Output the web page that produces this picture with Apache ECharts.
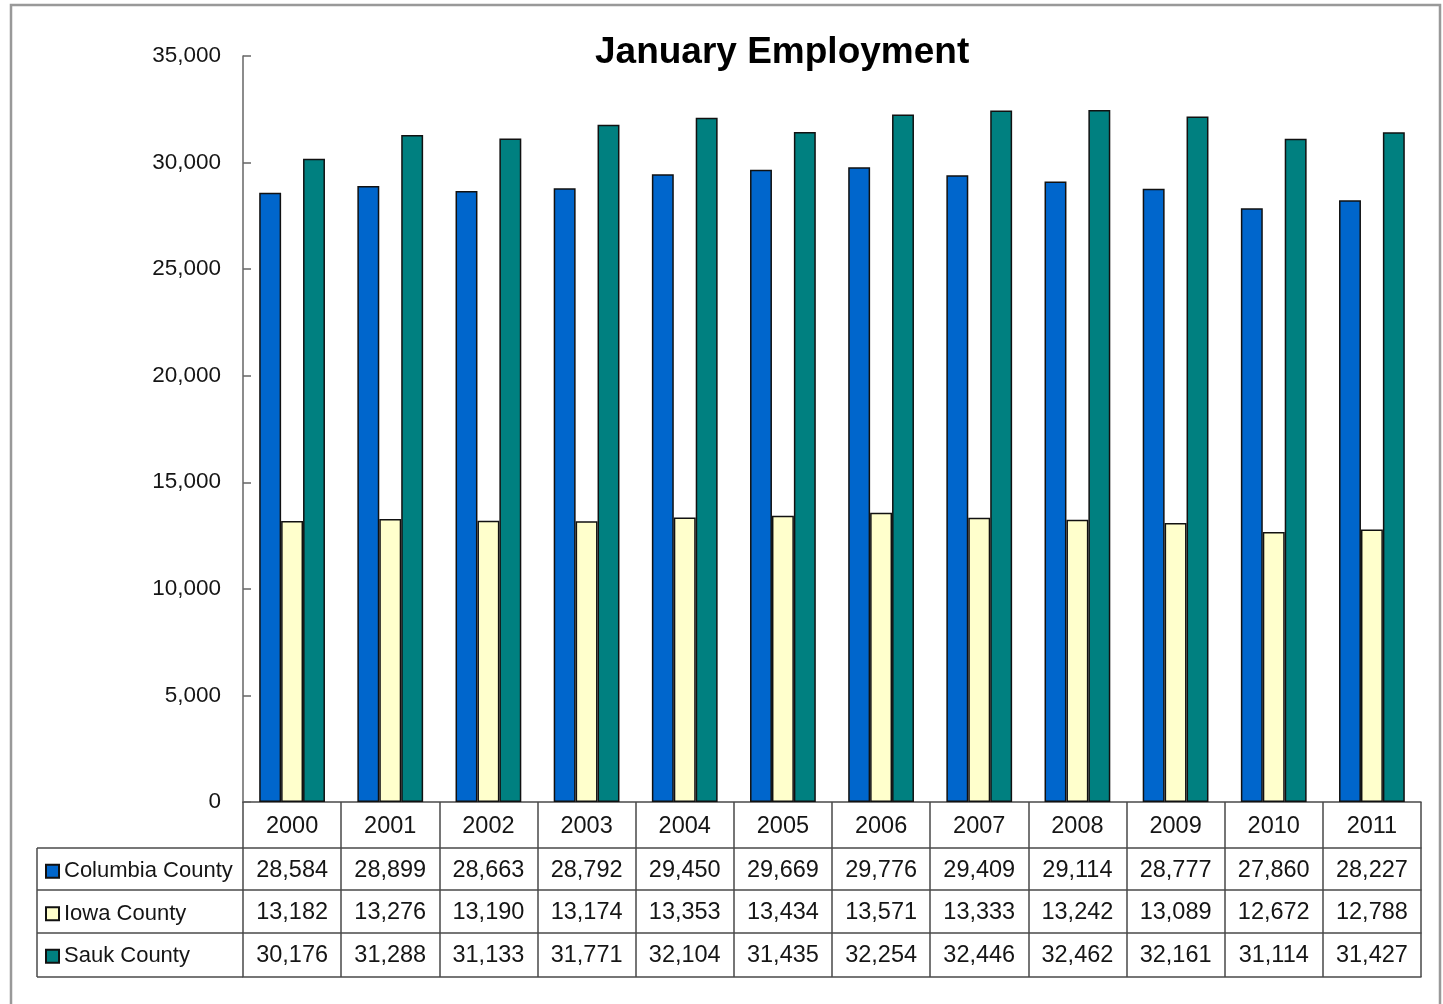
<!DOCTYPE html>
<html>
<head>
<meta charset="utf-8">
<script src="https://cdn.jsdelivr.net/npm/echarts@6/dist/echarts.min.js"></script>
<style>
html,body{margin:0;padding:0;background:#fff;}
#main{width:1443px;height:1004px;}
</style>
</head>
<body>
<div id="main"></div>
<script>
var years = ['2000','2001','2002','2003','2004','2005','2006','2007','2008','2009','2010','2011'];
var columbia = [28584,28899,28663,28792,29450,29669,29776,29409,29114,28777,27860,28227];
var iowa = [13182,13276,13190,13174,13353,13434,13571,13333,13242,13089,12672,12788];
var sauk = [30176,31288,31133,31771,32104,31435,32254,32446,32462,32161,31114,31427];
var seriesNames = ['Columbia County','Iowa County','Sauk County'];
var seriesColors = ['#0066CC','#FFFFCC','#008080'];
var yTicks = {min:0, max:35000, interval:5000};

var FONT = 'Liberation Sans, Arial, sans-serif';
var fmt = function(v){ return Number(v).toLocaleString('en-US'); };
var lineCol = '#4a4a4a';
var txtCol = '#151515';

function rowAxis(data, offset, tickLen, margin){
  return {
    type:'category', data:data.map(fmt), position:'bottom', offset:offset, gridIndex:0,
    boundaryGap:true,
    axisLine:{show:true, lineStyle:{color:lineCol, width:1.5}},
    axisTick:{show:true, length:tickLen, interval:0, lineStyle:{color:lineCol, width:1.5}},
    axisLabel:{show:true, interval:0, margin:margin, fontFamily:FONT, fontSize:23.5, lineHeight:22, color:txtCol},
    splitLine:{show:false}
  };
}

var chart = echarts.init(document.getElementById('main'), null, {renderer:'canvas'});
var allData = [columbia, iowa, sauk];
var option = {
  backgroundColor:'#fff',
  animation:false,
  title:{
    text:'January Employment', left:590, top:29,
    textStyle:{fontFamily:FONT, fontSize:37, fontWeight:'bold', color:'#000'}
  },
  legend:{
    orient:'vertical', left:40, top:855, itemWidth:13, itemHeight:13, itemGap:20,
    selectedMode:false, icon:'rect',
    data:seriesNames,
    textStyle:{fontFamily:FONT, fontSize:22, lineHeight:22.5, color:txtCol, padding:0}
  },
  grid:{left:243, right:22, top:56, bottom:202, containLabel:false},
  xAxis:[
    {
      type:'category', data:years, position:'bottom', gridIndex:0, boundaryGap:true,
      axisLine:{show:true, lineStyle:{color:lineCol, width:1.5}},
      axisTick:{show:true, length:46, interval:0, lineStyle:{color:lineCol, width:1.5}},
      axisLabel:{show:true, interval:0, margin:14, fontFamily:FONT, fontSize:23.5, lineHeight:22, color:txtCol},
      splitLine:{show:false}
    },
    rowAxis(columbia, 46, 42, 11.5),
    rowAxis(iowa, 88, 43, 12),
    rowAxis(sauk, 131, 44, 12),
    {
      type:'category', data:years, position:'bottom', offset:175, gridIndex:0,
      axisLine:{show:true, lineStyle:{color:lineCol, width:1.5}},
      axisTick:{show:false}, axisLabel:{show:false}, splitLine:{show:false}
    }
  ],
  yAxis:{
    type:'value', min:yTicks.min, max:yTicks.max, interval:yTicks.interval,
    axisLine:{show:true, lineStyle:{color:'#666', width:1.5}},
    axisTick:{show:true, inside:true, length:8, lineStyle:{color:'#666', width:1.5}},
    axisLabel:{margin:22, fontFamily:FONT, fontSize:22.5, color:txtCol, formatter:fmt},
    splitLine:{show:false}
  },
  series: seriesNames.map(function(n,i){
    return {
      name:n, type:'bar', xAxisIndex:0, data:allData[i],
      barGap:'0%', barCategoryGap:'33%',
      itemStyle:{color:seriesColors[i], borderColor:'#111', borderWidth:1.5}
    };
  }),
  graphic:[
    {type:'rect', shape:{x:11, y:5, width:1429, height:1020}, style:{fill:'none', stroke:'#999', lineWidth:2.5}, silent:true},
    {type:'line', shape:{x1:37, y1:848, x2:243, y2:848}, style:{stroke:lineCol, lineWidth:1.5}},
    {type:'line', shape:{x1:37, y1:890, x2:243, y2:890}, style:{stroke:lineCol, lineWidth:1.5}},
    {type:'line', shape:{x1:37, y1:933, x2:243, y2:933}, style:{stroke:lineCol, lineWidth:1.5}},
    {type:'line', shape:{x1:37, y1:977, x2:243, y2:977}, style:{stroke:lineCol, lineWidth:1.5}},
    {type:'line', shape:{x1:37, y1:848, x2:37, y2:977}, style:{stroke:lineCol, lineWidth:1.5}}
  ]
};
chart.setOption(option);
</script>
</body>
</html>
